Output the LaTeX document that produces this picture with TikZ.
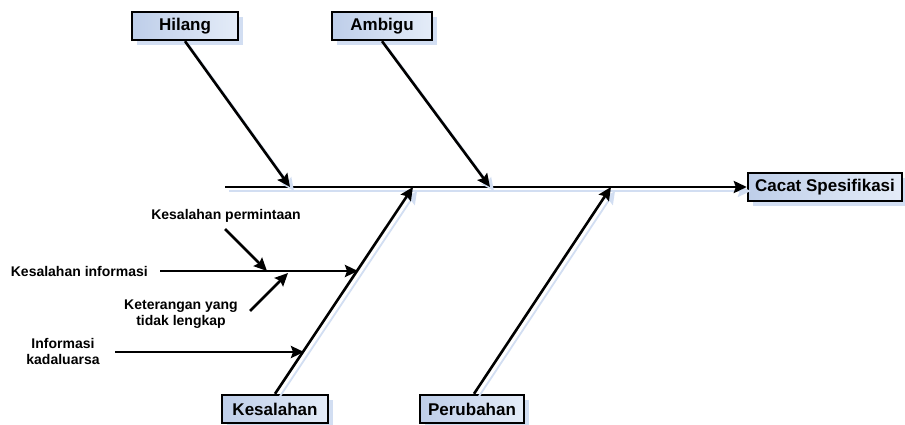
\documentclass[tikz,border=0pt]{standalone}
\usepackage{fontspec}
\setmainfont{Liberation Sans}
\usetikzlibrary{arrows.meta}
\definecolor{boxleft}{RGB}{190,206,233}
\definecolor{boxright}{RGB}{228,236,248}
\definecolor{shade}{RGB}{210,222,242}
\tikzset{
  cause/.style={draw=black, line width=2.4pt, left color=boxleft, right color=boxright,
    minimum height=28pt, inner sep=0pt, font=\fontsize{17}{19}\selectfont\bfseries,
    preaction={fill=shade, transform canvas={shift={(5pt,-5pt)}}}},
  bone/.style={draw=black, line width=2.6pt, -{Stealth[length=13pt,width=12pt,inset=2pt]},
    preaction={draw=shade, line width=1.8pt, transform canvas={shift={(4pt,-4pt)}}}},
  twig/.style={draw=black, line width=2.6pt, -{Stealth[length=13pt,width=12pt,inset=2pt]}},
  lbl/.style={inner sep=0pt, font=\fontsize{14}{16}\selectfont\bfseries, align=center}
}
\begin{document}
\begin{tikzpicture}[x=1pt,y=-1pt]
\useasboundingbox[fill=white] (0,0) rectangle (905,425);

% category boxes
\node[cause, minimum width=106pt] (hilang) at (185,26) {Hilang};
\node[cause, minimum width=100pt] (ambigu) at (382,26) {Ambigu};
\node[cause, minimum width=106pt] (kesalahan) at (275,409) {Kesalahan};
\node[cause, minimum width=104pt] (perubahan) at (472,409) {Perubahan};
\node[cause, minimum width=154pt] (cacat) at (825,187) {Cacat Spesifikasi};

% points where the bones meet the spine
\coordinate (spinestart) at (225,187);
\coordinate (hEnd) at (290,187);
\coordinate (aEnd) at (490,187);
\coordinate (kEnd) at (413,187);
\coordinate (pEnd) at (611,187);

% spine and main bones
\draw[bone] (spinestart) -- (cacat.west);
\draw[bone] (hilang.south) -- (hEnd);
\draw[bone] (ambigu.south) -- (aEnd);
\draw[bone] (kesalahan.north) -- (kEnd);
\draw[bone] ([xshift=2pt]perubahan.north) -- (pEnd);

% sub-causes of Kesalahan
\node[lbl, anchor=east] (info) at (148,271) {Kesalahan informasi};
\coordinate (infoStart) at (160,271);
\coordinate (infoEnd) at (358,271);
\draw[twig] (infoStart) -- (infoEnd);

\node[lbl] (minta) at (226,216) {Kesalahan permintaan};
\coordinate (mintaStart) at (225,229);
\coordinate (mintaEnd) at (267,271);
\draw[twig] (mintaStart) -- (mintaEnd);

\node[lbl] (ket) at (181,314) {Keterangan yang\\tidak lengkap};
\coordinate (ketStart) at (250,311);
\coordinate (ketEnd) at (288,273);
\draw[twig] (ketStart) -- (ketEnd);

\node[lbl] (kadal) at (63,351) {Informasi\\kadaluarsa};
\coordinate (kadalStart) at (115,352);
\coordinate (kadalEnd) at (304,352);
\draw[twig] (kadalStart) -- (kadalEnd);
\end{tikzpicture}
\end{document}
